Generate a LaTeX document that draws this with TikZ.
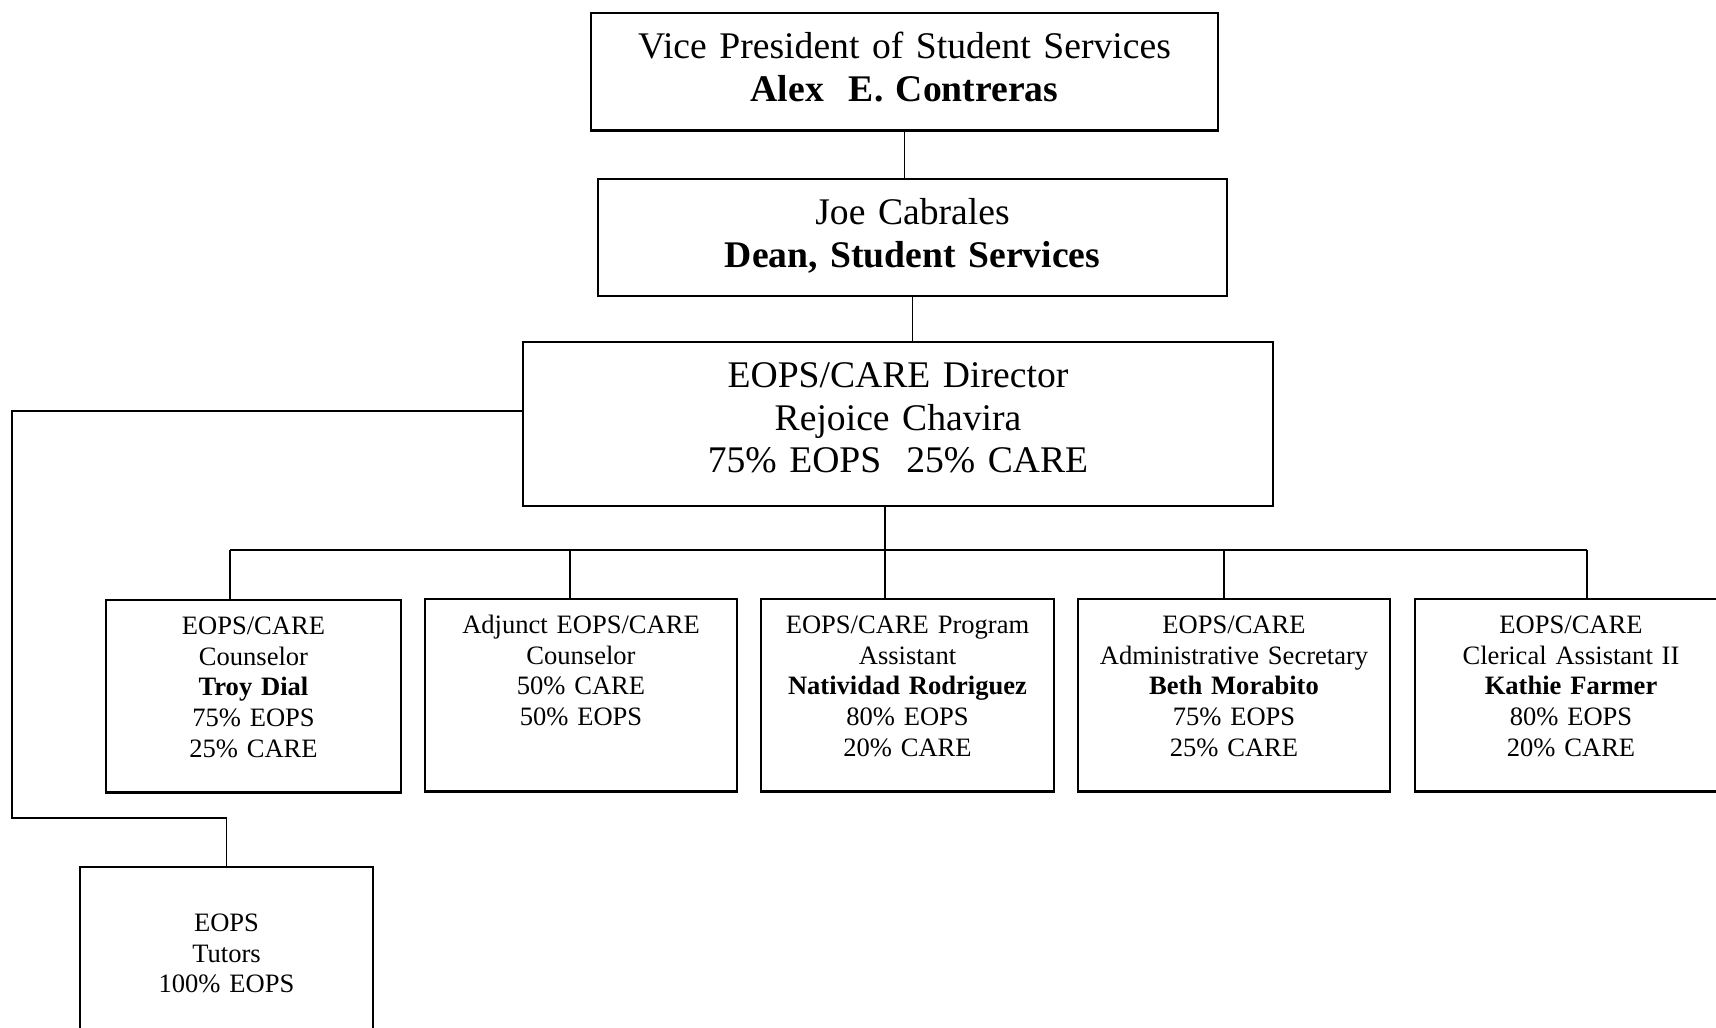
\documentclass[tikz,border=0pt]{standalone}
\usepackage{fontspec}
\setmainfont{Liberation Serif}
\begin{document}
\begin{tikzpicture}[
	x=0.01cm, y=-0.01cm,
	box/.style={draw=black, line width=0.7pt, anchor=north, inner sep=0pt, align=center},
	head/.style={box, font=\fontsize{10.7pt}{12.1pt}\selectfont, text height=0.455cm},
	staff/.style={box, font=\fontsize{7.55pt}{8.75pt}\selectfont, text width=#1, text height=0.34cm, text depth=1.58cm},
	staff/.default=3.12cm,
	link/.style={line width=0.55pt}
	]
	\useasboundingbox (0,0) rectangle (1716,1028);
	\clip (0,0) rectangle (1716,1028);

	% top of the chart
	\node [head, text width=6.27cm, text depth=0.716cm] (vp) at (904.5,12)
		{Vice President of Student Services\\ \textbf{Alex\ \ E. Contreras}};
	\node [head, text width=6.29cm, text depth=0.713cm] (dean) at (912.5,178)
		{Joe Cabrales\\ \textbf{Dean, Student Services}};
	\node [head, text width=7.50cm, text depth=1.182cm] (dir) at (898,341)
		{EOPS/CARE Director\\ Rejoice Chavira\\ 75\% EOPS\ \ 25\% CARE};

	% staff row
	\node [staff=2.95cm] (troy) at (253.5,599)
		{EOPS/CARE\\ Counselor\\ \textbf{Troy Dial}\\ 75\% EOPS\\ 25\% CARE};
	\node [staff] (adj) at (581,598)
		{Adjunct EOPS/CARE\\ Counselor\\ 50\% CARE\\ 50\% EOPS};
	\node [staff=2.93cm] (nat) at (907.5,598)
		{EOPS/CARE Program\\ Assistant\\ \textbf{Natividad Rodriguez}\\ 80\% EOPS\\ 20\% CARE};
	\node [staff] (beth) at (1234,598)
		{EOPS/CARE\\ Administrative Secretary\\ \textbf{Beth Morabito}\\ 75\% EOPS\\ 25\% CARE};
	\node [staff] (kathie) at (1571,598)
		{EOPS/CARE\\ Clerical Assistant II\\ \textbf{Kathie Farmer}\\ 80\% EOPS\\ 20\% CARE};
	\node [staff=2.93cm, text height=0.64cm, text depth=1.29cm] (tutors) at (226.5,866)
		{EOPS\\ Tutors\\ 100\% EOPS};

	% lines
	\draw [link] (vp.south) -- (vp.south |- dean.north);
	\draw [link] (dean.south) -- (dean.south |- dir.north);
	\coordinate (bus) at (885,550);
	\draw [link] (dir.south -| bus) -- (bus);
	\foreach \n/\x in {troy/230, adj/570, nat/885, beth/1224, kathie/1587}{
		\coordinate (d-\n) at (\x,550);
		\draw [link] (d-\n) -- (d-\n |- \n.north);
	}
	\draw [link] (d-troy) -- (d-kathie);
	\coordinate (lft) at (12,411);
	\coordinate (elbow) at (12,818);
	\draw [link] (dir.west |- lft) -- (lft) -- (elbow) -| (tutors.north);
\end{tikzpicture}
\end{document}
